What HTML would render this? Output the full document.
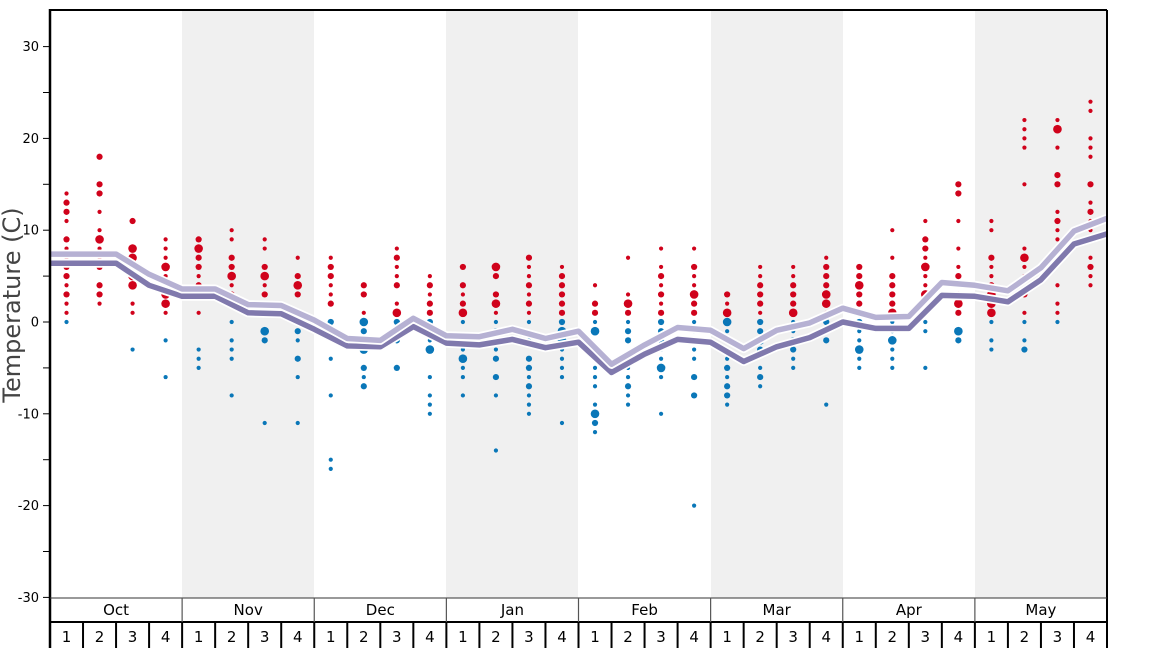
<!DOCTYPE html>
<html><head><meta charset="utf-8"><style>
html,body{margin:0;padding:0;background:#fff;}
svg{display:block;font-family:"DejaVu Sans","Liberation Sans",sans-serif;}
</style></head><body>
<svg id="s" width="1168" height="648" xmlns="http://www.w3.org/2000/svg">
<rect x="182" y="10" width="132" height="588" fill="#f0f0f0"/>
<rect x="446" y="10" width="132" height="588" fill="#f0f0f0"/>
<rect x="711" y="10" width="132" height="588" fill="#f0f0f0"/>
<rect x="975" y="10" width="132" height="588" fill="#f0f0f0"/>
<g id="dots"></g>
<g id="lines"></g>
<line x1="50" y1="10" x2="1107" y2="10" stroke="#000" stroke-width="2"/>
<line x1="1107" y1="10" x2="1107" y2="648" stroke="#000" stroke-width="2"/>
<line x1="50" y1="9" x2="50" y2="648" stroke="#000" stroke-width="2.5"/>
<g id="ticks" font-size="13" fill="#000" text-anchor="end"></g>
<text transform="translate(20,305) rotate(-90)" font-size="24" fill="#444" text-anchor="middle">Temperature (C)</text>
<line x1="50" y1="598" x2="1107" y2="598" stroke="#333" stroke-width="1"/>
<line x1="50" y1="622" x2="1107" y2="622" stroke="#000" stroke-width="2"/>
<g id="xax" font-size="15" fill="#000" text-anchor="middle"></g>
</svg>
<script>
var NS="http://www.w3.org/2000/svg";
function el(t,a,p,txt){var e=document.createElementNS(NS,t);for(var k in a)e.setAttribute(k,a[k]);if(txt!==undefined)e.textContent=txt;p.appendChild(e);return e;}
var Y=function(v){return 322-v*9.18;};
var W=(1107-50)/32;
var ticks=document.getElementById('ticks');
for(var v=-30;v<=30;v+=5){var y=Y(v);el('line',{x1:43,y1:y,x2:50,y2:y,stroke:'#000','stroke-width':1},ticks);
 if(v%10==0)el('text',{x:39,y:y+4.5},ticks,String(v));}
var xax=document.getElementById('xax');
var months=['Oct','Nov','Dec','Jan','Feb','Mar','Apr','May'];
for(var m=0;m<8;m++){var x0=50+m*4*W;
 if(m>0)el('line',{x1:x0,y1:598,x2:x0,y2:622,stroke:'#555','stroke-width':1.2},xax);
 el('text',{x:x0+2*W,y:615},xax,months[m]);}
for(var w=0;w<32;w++){var x0=50+w*W;
 if(w>0)el('line',{x1:x0,y1:622,x2:x0,y2:648,stroke:'#000','stroke-width':2},xax);
 el('text',{x:x0+W/2,y:642},xax,String(w%4+1));}
var D=[
"14,13m,12m,11,9m,8,7,6m,5m,4,3m,2,1,0",
"18m,15m,14m,12,10,9l,8,7,6m,4m,3m,2",
"11m,8l,7l,6l,5l,4l,2,1,-3",
"9,8,7,6l,5,4,3l,2l,1,-2,-6",
"9m,8l,7m,6m,5,4m,3m,1,-3,-4,-5",
"10,9,7m,6m,5l,4,3m,2m,0,-2,-3,-4,-8",
"9,8,6m,5l,4,3m,1m,-1l,-2m,-11",
"7,5m,4l,3m,1,0m,-1m,-2,-4m,-6,-11",
"7,6m,5m,4,3,2m,0m,-1m,-4,-8,-15,-16",
"4m,3m,1,0l,-1m,-2,-3l,-5m,-6,-7m",
"8,7m,6,5,4m,2,1l,0m,-1,-2m,-5m",
"5,4m,3,2m,1m,0m,-1m,-2,-3l,-6,-8,-9,-10",
"6m,4m,3,2m,1l,0,-3,-4l,-5,-6,-8",
"6l,5m,3m,2l,1,0,-1m,-3,-4m,-6m,-8,-14",
"7m,6,5,4m,3,2m,1,0,-2,-4m,-5m,-6,-7m,-8,-9,-10",
"6,5m,4m,3m,2m,1m,0m,-1l,-2l,-3,-4,-5,-6,-11",
"4,2m,1m,0,-1l,-3,-4m,-5,-6,-7,-9,-10l,-11m,-12",
"7,3,2l,1m,0,-1m,-2m,-4m,-5,-6,-7m,-8,-9",
"8,6,5m,4,3m,2,1m,0m,-1m,-2m,-3,-4,-5l,-6,-10",
"8,6m,5,4,3l,2m,1m,0,-1,-2,-3,-4,-6m,-8m,-20",
"3m,2,1l,0l,-1,-2m,-3,-4,-5m,-6,-7m,-8m,-9",
"6,5,4m,3m,2m,1,0m,-1m,-2l,-3m,-5,-6m,-7",
"6,5,4m,3m,2m,1l,0,-1,-2m,-3m,-4,-5",
"7,6m,5m,4m,3l,2l,1,0m,-2m,-9",
"6m,5m,4l,3m,2m,1m,0m,-1,-2,-3l,-4,-5",
"10,7,5m,4m,3m,2m,1l,0,-1,-2l,-3,-4,-5",
"11,9m,8m,7,6l,5,4,3l,2,1m,0,-1,-5",
"15m,14m,11,8,6,5m,3m,2l,1m,-1l,-2m",
"11,10,7m,6,5,4m,3l,2l,1l,0,-2,-3",
"22,21,20,19,15,8,7l,6,5,3m,1,0,-2,-3m",
"22,21l,19,16m,15m,12,11m,10,9,8m,4,2,1,0",
"24,23,20,19,18,15m,13,12m,11,10,7,6m,5,4"];
var dg=document.getElementById('dots');
var R={s:2.1,m:3.1,l:4.3};
D.forEach(function(s,i){var x=50+(i+0.5)*W;s.split(',').forEach(function(t){var sz='s';if(/[ml]$/.test(t)){sz=t.slice(-1);t=t.slice(0,-1);}var v=+t;
 el('circle',{cx:x,cy:Y(v),r:R[sz],fill:v>0?'#d0021b':'#0a77b8'},dg);});});
var L=[7.4,7.4,7.4,5.2,3.6,3.6,1.9,1.8,0.2,-1.8,-2.0,0.4,-1.5,-1.6,-0.8,-1.8,-1.0,-4.6,-2.5,-0.6,-0.9,-2.9,-0.9,-0.1,1.5,0.5,0.6,4.3,4.0,3.4,5.9,9.9,11.3];
var Dk=[6.4,6.4,6.4,4.0,2.8,2.8,1.0,0.9,-0.8,-2.6,-2.7,-0.5,-2.3,-2.5,-1.9,-2.8,-2.2,-5.5,-3.5,-1.9,-2.2,-4.3,-2.7,-1.7,0,-0.7,-0.7,2.9,2.8,2.2,4.6,8.5,9.6];
function pts(a){return a.map(function(v,i){return (50+i*W).toFixed(1)+','+Y(v).toFixed(1);}).join(' ');}
var lg=document.getElementById('lines');
[[Dk,'#8079ad'],[L,'#b6b1d3']].forEach(function(p){
 el('polyline',{points:pts(p[0]),fill:'none',stroke:'#fff','stroke-width':9,'stroke-linejoin':'round'},lg);
 el('polyline',{points:pts(p[0]),fill:'none',stroke:p[1],'stroke-width':5.5,'stroke-linejoin':'round'},lg);});
</script>
</body></html>
